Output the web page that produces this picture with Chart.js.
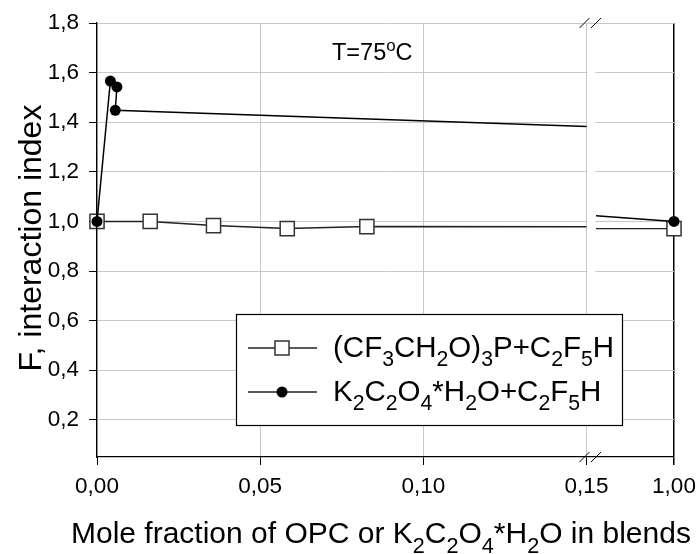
<!DOCTYPE html>
<html>
<head>
<meta charset="utf-8">
<script src="https://cdn.jsdelivr.net/npm/chart.js@4.4.1/dist/chart.umd.min.js"></script>
<style>
  html, body { margin: 0; padding: 0; background: #fff; }
  #wrap { width: 700px; height: 554px; }
</style>
</head>
<body>
<div id="wrap"><canvas id="myChart" width="700" height="554"></canvas></div>
<script>
// (CF3CH2O)3P + C2F5H  (squares)
const xOpc = [0, 0.0163, 0.0357, 0.0583, 0.0827, 1.0];
const fOpc = [1.00, 1.00, 0.983, 0.971, 0.979, 0.971];

// K2C2O4*H2O + C2F5H  (dots)
const xOxalate = [0, 0.0041, 0.0061, 0.0056, 1.0];
const fOxalate = [1.00, 1.566, 1.542, 1.448, 1.00];

// ticks
const xTicksLeft = [0, 0.05, 0.10, 0.15];
const xTicksRight = [1.0];
const yTicks = [0.2, 0.4, 0.6, 0.8, 1.0, 1.2, 1.4, 1.6, 1.8];

// axis break: left part 0..0.15, right part restarts at 0.95
const breakFrom = 0.15;
const breakTo = 0.95;

const FONT = "'Liberation Sans', Arial, sans-serif";
const GRID = "#c8c8c8";

const toPoints = (xs, ys) => xs.map((x, i) => ({ x, y: ys[i] }));
const comma = (v, d) => Number(v).toFixed(d).replace(".", ",");

// draw text made of normal / sub / sup pieces
function drawRich(ctx, parts, x, y, size) {
  ctx.textAlign = "left";
  ctx.textBaseline = "alphabetic";
  let cx = x;
  for (const [txt, kind] of parts) {
    const s = kind ? size * 0.72 : size;
    ctx.font = `${s}px ${FONT}`;
    let dy = 0;
    if (kind === "sub") dy = size * 0.32;
    if (kind === "sup") dy = -size * 0.38;
    ctx.fillText(txt, cx, y + dy);
    cx += ctx.measureText(txt).width;
  }
}

const legendOpc = [["(CF", 0], ["3", "sub"], ["CH", 0], ["2", "sub"], ["O)", 0], ["3", "sub"],
  ["P+C", 0], ["2", "sub"], ["F", 0], ["5", "sub"], ["H", 0]];
const legendOx = [["K", 0], ["2", "sub"], ["C", 0], ["2", "sub"], ["O", 0], ["4", "sub"],
  ["*H", 0], ["2", "sub"], ["O+C", 0], ["2", "sub"], ["F", 0], ["5", "sub"], ["H", 0]];
const xTitle = [["Mole fraction of OPC or K", 0], ["2", "sub"], ["C", 0], ["2", "sub"], ["O", 0],
  ["4", "sub"], ["*H", 0], ["2", "sub"], ["O in blends", 0]];
const tempNote = [["T=75", 0], ["o", "sup"], ["C", 0]];

// clip each copy of a series to its own half of the broken axis
const segmentClip = {
  id: "segmentClip",
  beforeDatasetsDraw(chart) {
    const { ctx, chartArea } = chart;
    const xL = chart.scales.x, xR = chart.scales.x2;
    const gapEnd = xR.getPixelForValue(breakTo);
    ctx.save();
    ctx.fillStyle = "#fff";
    ctx.fillRect(xL.right + 1, chartArea.top + 1, gapEnd - xL.right - 1.5, chartArea.bottom - chartArea.top - 2);
    ctx.restore();
  },
  beforeDatasetDraw(chart, args) {
    const { ctx, width, height } = chart;
    const xL = chart.scales.x, xR = chart.scales.x2;
    ctx.save();
    ctx.beginPath();
    if (args.meta.xAxisID === "x") ctx.rect(0, 0, xL.right, height);
    else ctx.rect(xR.getPixelForValue(breakTo), 0, width, height);
    ctx.clip();
  },
  afterDatasetDraw(chart) {
    chart.ctx.restore();
  },
  afterDraw(chart) {
    const { ctx, chartArea } = chart;
    const xL = chart.scales.x;
    ctx.save();
    ctx.fillStyle = "#000";
    ctx.strokeStyle = "#000";

    // break marks
    ctx.lineWidth = 1;
    for (const yb of [chartArea.top, chartArea.bottom]) {
      for (const dx of [-2, 9.5]) {
        ctx.beginPath();
        ctx.moveTo(xL.right + dx - 5, yb + 5);
        ctx.lineTo(xL.right + dx + 5, yb - 5);
        ctx.stroke();
      }
    }

    // temperature note
    drawRich(ctx, tempNote, 332, 60, 23.5);

    // x title
    drawRich(ctx, xTitle, 71, 543, 30);

    // y title
    ctx.save();
    ctx.translate(41, (chartArea.top + chartArea.bottom) / 2 - 2);
    ctx.rotate(-Math.PI / 2);
    ctx.font = `32px ${FONT}`;
    ctx.textAlign = "center";
    ctx.textBaseline = "alphabetic";
    ctx.fillText("F, interaction index", 0, 0);
    ctx.restore();

    // legend
    ctx.fillStyle = "#fff";
    ctx.fillRect(236, 314, 387, 112);
    ctx.lineWidth = 1.2;
    ctx.strokeRect(236.5, 314.5, 386, 111);
    const rows = [
      { y: 348, parts: legendOpc, style: "rect" },
      { y: 392, parts: legendOx, style: "circle" }
    ];
    for (const r of rows) {
      ctx.strokeStyle = "#222";
      ctx.lineWidth = 1.5;
      ctx.beginPath();
      ctx.moveTo(248, r.y);
      ctx.lineTo(317, r.y);
      ctx.stroke();
      if (r.style === "rect") {
        ctx.fillStyle = "#fff";
        ctx.fillRect(275, r.y - 7, 14, 14);
        ctx.strokeStyle = "#333";
        ctx.strokeRect(275, r.y - 7, 14, 14);
      } else {
        ctx.fillStyle = "#000";
        ctx.beginPath();
        ctx.arc(282, r.y, 5.5, 0, Math.PI * 2);
        ctx.fill();
      }
      ctx.fillStyle = "#000";
      drawRich(ctx, r.parts, 333, r.y + 9, 29.5);
    }
    ctx.restore();
  }
};

const dotStyle = {
  borderColor: "#000",
  backgroundColor: "#000",
  borderWidth: 1.5,
  pointStyle: "circle",
  pointRadius: 5.5,
  pointBorderWidth: 0,
  pointBackgroundColor: "#000",
  tension: 0,
  clip: false
};
const squareStyle = {
  borderColor: "#222",
  backgroundColor: "#fff",
  borderWidth: 1.5,
  pointStyle: "rect",
  pointRadius: 10,
  pointBorderWidth: 1.5,
  pointBorderColor: "#333",
  pointBackgroundColor: "#fff",
  tension: 0,
  clip: false
};

const datasets = [
  { label: "K2C2O4*H2O+C2F5H", data: toPoints(xOxalate, fOxalate), xAxisID: "x", ...dotStyle },
  { label: "K2C2O4*H2O+C2F5H ", data: toPoints(xOxalate, fOxalate), xAxisID: "x2", ...dotStyle },
  { label: "(CF3CH2O)3P+C2F5H", data: toPoints(xOpc, fOpc), xAxisID: "x", ...squareStyle },
  { label: "(CF3CH2O)3P+C2F5H ", data: toPoints(xOpc, fOpc), xAxisID: "x2", ...squareStyle }
];

const tickFont = { family: FONT, size: 22.5 };

new Chart(document.getElementById("myChart"), {
  type: "line",
  data: { datasets },
  options: {
    responsive: false,
    animation: false,
    layout: { padding: { top: 23, right: 26, bottom: 0, left: 0 } },
    plugins: { legend: { display: false }, tooltip: { enabled: false } },
    scales: {
      x: {
        type: "linear",
        position: "bottom",
        stack: "x",
        stackWeight: 489.5,
        min: 0,
        max: breakFrom,
        afterBuildTicks: (s) => { s.ticks = xTicksLeft.map(v => ({ value: v })); },
        afterFit: (s) => { s.height = 97; s.paddingLeft = 0; s.paddingRight = 0; },
        ticks: { font: tickFont, color: "#000", padding: 8, maxRotation: 0, callback: (v) => comma(v, 2) },
        grid: { color: GRID, tickColor: "#000", tickLength: 8, lineWidth: 1 },
        border: { color: "#000", width: 1.3, z: 1 }
      },
      x2: {
        type: "linear",
        position: "bottom",
        stack: "x",
        stackWeight: 87.5,
        min: 0.944,
        max: 1.0,
        afterBuildTicks: (s) => { s.ticks = xTicksRight.map(v => ({ value: v })); },
        afterFit: (s) => { s.height = 97; s.paddingLeft = 0; s.paddingRight = 0; },
        ticks: { font: tickFont, color: "#000", padding: 8, maxRotation: 0, callback: (v) => comma(v, 2) },
        grid: { color: "#000", tickColor: "#000", tickLength: 8, lineWidth: 1.5 },
        border: { color: "#000", width: 1.3, z: 1 }
      },
      y: {
        type: "linear",
        position: "left",
        min: 0.05,
        max: 1.8,
        afterBuildTicks: (s) => { s.ticks = yTicks.map(v => ({ value: v })); },
        afterFit: (s) => { s.width = 97; s.paddingTop = 0; s.paddingBottom = 0; },
        ticks: { font: tickFont, color: "#000", padding: 10, callback: (v) => comma(v, 1) },
        grid: { color: GRID, tickColor: "#000", tickLength: 8, lineWidth: 1 },
        border: { color: "#000", width: 1.3, z: 1 }
      }
    }
  },
  plugins: [segmentClip]
});
</script>
</body>
</html>
